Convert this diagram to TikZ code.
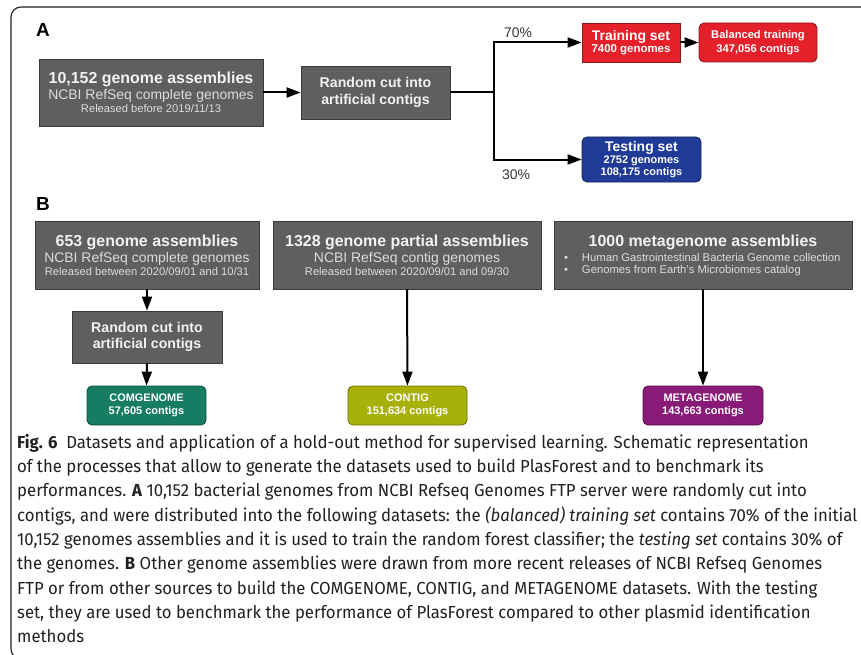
\documentclass[tikz,border=0pt]{standalone}
\usepackage{fontspec}
\setmainfont{Liberation Sans}
\newfontfamily\capfont[FakeStretch=0.96]{Fira Sans}
\usetikzlibrary{arrows.meta}
\definecolor{boxgray}{HTML}{5F5F5F}
\definecolor{grayedge}{HTML}{3A3A3A}
\definecolor{subgray}{HTML}{DCDCDC}
\definecolor{trainred}{HTML}{E5202B}
\definecolor{rededge}{HTML}{8A1A1A}
\definecolor{testblue}{HTML}{1F3B97}
\definecolor{blueedge}{HTML}{14205E}
\definecolor{comgreen}{HTML}{167D62}
\definecolor{greenedge}{HTML}{0D4A3A}
\definecolor{contigolive}{HTML}{A8B00A}
\definecolor{oliveedge}{HTML}{6A6E00}
\definecolor{metapurple}{HTML}{8A1A78}
\definecolor{purpleedge}{HTML}{55104A}
\definecolor{pcttext}{HTML}{333333}
\definecolor{captext}{HTML}{231F20}
\newcommand\ttltx{\fontsize{16}{18}\selectfont\bfseries}
\newcommand\subtx{\fontsize{14}{16}\selectfont\color{subgray}}
\newcommand\smtx{\fontsize{11.2}{13}\selectfont\color{subgray}}
\newcommand\bultx{\fontsize{11.3}{13}\selectfont\color{subgray}}
\tikzset{
  gbox/.style={draw=grayedge, fill=boxgray, line width=0.8bp, inner sep=0pt, align=center, text=white!95!black},
  cbox/.style={line width=0.8bp, inner sep=0pt, align=center, text=white, rounded corners=5bp},
  conn/.style={line width=2bp, black},
  arr/.style={conn, -{Triangle[length=14bp,width=10bp]}},
  plabel/.style={font=\fontsize{14}{16}\selectfont, text=pcttext, inner sep=0pt},
  panel/.style={font=\fontsize{19}{20}\selectfont\bfseries, inner sep=0pt, anchor=base west}
}
\begin{document}
\begin{tikzpicture}[x=1bp, y=-1bp]
\useasboundingbox (0,0) rectangle (861,655);
% frame
\draw[line width=1.1bp, rounded corners=10bp, captext] (870,7) -- (11,7) -- (11,659) -- (40,659);
% panel labels
\node[panel] (la) at (36,37) {A};
\node[panel] (lb) at (36,210) {B};
% ---------- A ----------
\node[gbox, minimum width=224bp, minimum height=67bp] (a1) at (151,92.5)
  {{\ttltx 10,152 genome assemblies}\\[2bp]{\subtx NCBI RefSeq complete genomes}\\[1bp]{\smtx Released before 2019/11/13}};
\node[gbox, minimum width=149bp, minimum height=53bp, font=\fontsize{14.2}{16.5}\selectfont\bfseries] (rand1) at (375.5,92.5)
  {Random cut into\\artificial contigs};
\node[cbox, rounded corners=0pt, draw=rededge, fill=trainred, minimum width=98bp, minimum height=39bp] (train) at (631,42.5)
  {{\fontsize{14}{16}\selectfont\bfseries Training set}\\{\fontsize{11.5}{14}\selectfont\bfseries 7400 genomes}};
\node[cbox, draw=rededge, fill=trainred, minimum width=118bp, minimum height=39bp, font=\fontsize{11.2}{14}\selectfont\bfseries] (bal) at (758,42.5)
  {Balanced training\\347,056 contigs};
\node[cbox, draw=blueedge, fill=testblue, minimum width=119bp, minimum height=45bp] (test) at (641.5,159.5)
  {{\fontsize{14}{15}\selectfont\bfseries Testing set}\\{\fontsize{11}{13}\selectfont\bfseries 2752 genomes}\\{\fontsize{11}{13}\selectfont\bfseries 108,175 contigs}};
\coordinate (split) at (494,92.5);
\node[plabel] (p70) at (518,33) {70\%};
\node[plabel] (p30) at (516,175) {30\%};
\draw[arr] (a1.east) -- (rand1.west);
\draw[conn] (rand1.east) -- (split);
\draw[arr] (split) |- (train.west);
\draw[arr] (split) |- (test.west);
\draw[arr] (train.east) -- (bal.west);
% ---------- B ----------
\node[gbox, minimum width=224bp, minimum height=68bp] (b1) at (147,255)
  {{\ttltx 653 genome assemblies}\\[2bp]{\subtx NCBI RefSeq complete genomes}\\[1bp]{\smtx Released between 2020/09/01 and 10/31}};
\node[gbox, minimum width=150bp, minimum height=52bp, font=\fontsize{14.2}{16.5}\selectfont\bfseries] (rand2) at (147,337)
  {Random cut into\\artificial contigs};
\node[cbox, draw=greenedge, fill=comgreen, minimum width=119bp, minimum height=39bp, font=\fontsize{11}{13}\selectfont\bfseries] (com) at (146.5,405.5)
  {COMGENOME\\57,605 contigs};
\node[gbox, minimum width=268bp, minimum height=68bp] (b2) at (407,255)
  {{\ttltx 1328 genome partial assemblies}\\[2bp]{\subtx NCBI RefSeq contig genomes}\\[1bp]{\smtx Released between 2020/09/01 and 09/30}};
\node[cbox, draw=oliveedge, fill=contigolive, minimum width=119bp, minimum height=39bp, font=\fontsize{11}{13}\selectfont\bfseries] (contig) at (407.5,405.5)
  {CONTIG\\151,634 contigs};
\node[gbox, minimum width=298bp, minimum height=68bp] (b3) at (703,255)
  {{\ttltx 1000 metagenome assemblies}\\[3bp]%
   {\bultx\makebox[286bp][l]{\hspace*{4bp}\makebox[18bp][l]{•}Human Gastrointestinal Bacteria Genome collection}}\\[0bp]%
   {\bultx\makebox[286bp][l]{\hspace*{4bp}\makebox[18bp][l]{•}Genomes from Earth's Microbiomes catalog}}};
\node[cbox, draw=purpleedge, fill=metapurple, minimum width=120bp, minimum height=39bp, font=\fontsize{11}{13}\selectfont\bfseries] (meta) at (703,405.5)
  {METAGENOME\\143,663 contigs};
\draw[arr] (b1.south) -- (rand2.north);
\draw[arr] (rand2.south) -- (com.north);
\draw[arr] (b2.south) -- (contig.north);
\draw[arr] (b3.south) -- (meta.north);
% ---------- caption ----------
\node[anchor=north west, inner sep=0pt, align=left, text=captext, font=\capfont\fontsize{17.5}{24.4}\selectfont] (cap) at (17,434)
  {\textbf{Fig. 6}\hspace{0.5em}Datasets and application of a hold-out method for supervised learning. Schematic representation\\
   of the processes that allow to generate the datasets used to build PlasForest and to benchmark its\\
   performances. \textbf{A} 10,152 bacterial genomes from NCBI Refseq Genomes FTP server were randomly cut into\\
   contigs, and were distributed into the following datasets: the \textit{(balanced) training set} contains 70\% of the initial\\
   10,152 genomes assemblies and it is used to train the random forest classifier; the \textit{testing set} contains 30\% of\\
   the genomes. \textbf{B} Other genome assemblies were drawn from more recent releases of NCBI Refseq Genomes\\
   FTP or from other sources to build the COMGENOME, CONTIG, and METAGENOME datasets. With the testing\\
   set, they are used to benchmark the performance of PlasForest compared to other plasmid identification\\
   methods};
\end{tikzpicture}
\end{document}
